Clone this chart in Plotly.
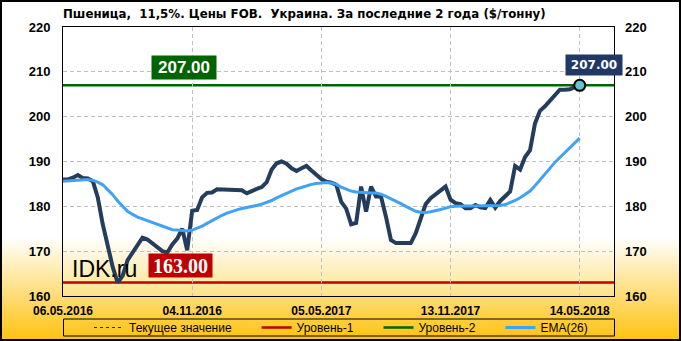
import plotly.graph_objects as go

# ---------------- data ----------------
tick_labels = ["06.05.2016", "04.11.2016", "05.05.2017", "13.11.2017", "14.05.2018"]
tick_index = [0, 26, 52, 78, 104]
y_ticks = [160, 170, 180, 190, 200, 210, 220]

price = [
    186.0, 186.0, 186.4, 187.0, 186.3, 186.2, 185.6, 182.0, 176.0, 171.0,
    166.5, 163.0, 164.5, 168.0, 169.8, 171.5, 173.0, 172.6, 171.8, 171.0,
    170.0, 169.7, 171.5, 172.8, 175.0, 170.2, 179.0, 179.2, 182.0, 183.0,
    183.1, 183.8, 183.8, 183.8, 183.8, 183.8, 183.6, 182.9, 183.5, 183.9,
    184.3, 185.4, 188.2, 189.6, 190.0, 189.5, 188.5, 187.9, 188.5, 189.0,
    188.0, 187.0, 186.1, 185.5, 185.3, 184.8, 181.0, 179.5, 176.0, 176.3,
    184.4, 178.8, 184.4, 182.2, 182.2, 177.7, 172.5, 171.8, 171.8, 171.8,
    171.8, 174.0, 177.5, 180.5, 181.8, 182.6, 183.5, 184.4, 181.5, 180.7,
    180.5, 179.6, 179.6, 180.3, 179.8, 179.6, 181.4, 179.7, 181.2, 182.4,
    183.3, 189.0, 188.2, 191.0, 192.5, 198.5, 201.3, 202.3, 203.5, 204.8,
    206.0, 206.0, 206.1, 206.6, 207.0,
]

ema26 = [
    185.6, 185.7, 185.8, 185.9, 185.9, 186.0, 185.8, 185.4, 184.8, 183.8,
    182.6, 181.2, 180.0, 178.9, 178.2, 177.6, 177.2, 176.8, 176.4, 176.0,
    175.6, 175.1, 174.8, 174.7, 174.6, 174.5, 174.7, 175.1, 175.6, 176.2,
    176.8, 177.5, 178.0, 178.5, 178.9, 179.2, 179.5, 179.7, 180.0, 180.2,
    180.5, 180.9, 181.3, 181.9, 182.4, 183.0, 183.5, 183.9, 184.2, 184.6,
    184.9, 185.1, 185.2, 185.3, 185.2, 184.9, 184.3, 183.8, 183.4, 183.2,
    183.1, 183.1, 183.0, 183.0, 182.7, 182.2, 181.7, 181.1, 180.6, 180.0,
    179.4, 178.9, 178.7, 178.6, 178.8, 179.0, 179.3, 179.6, 179.9, 180.0,
    180.1, 180.1, 180.1, 180.1, 180.1, 180.1, 180.1, 180.1, 180.2, 180.4,
    180.8, 181.3, 181.9, 182.6, 183.4, 184.6, 185.9, 187.3, 188.6, 189.8,
    190.9, 192.0, 193.1, 194.2, 195.2,
]

level1 = 163.0
level2 = 207.0
x_idx = list(range(len(price)))
current = price[-1]

# ---------------- geometry helpers (style only) ----------------
W, H = 681, 341
L, R, T, B = 63, 67, 27, 45
PW, PH = W - L - R, H - T - B


def px(x):
    return (x - L) / PW


def py(y):
    return (H - B - y) / PH


def mix(c0, c1, t):
    return "rgb(%d,%d,%d)" % tuple(round(a + (b - a) * t) for a, b in zip(c0, c1))


shapes = []
# outer gradient (whole image)
g0, g1 = 236, 341
for yy in range(g0, g1, 2):
    t = (yy - g0) / (g1 - g0)
    shapes.append(dict(type="rect", xref="paper", yref="paper", layer="below",
                       x0=px(0), x1=px(W), y0=py(H), y1=py(yy),
                       fillcolor=mix((255, 255, 255), (255, 193, 10), t), line_width=0))
# inner gradient (plot area)
h0, h1 = 236, 296
for yy in range(h0, h1, 2):
    t = (yy - h0) / (h1 - h0)
    shapes.append(dict(type="rect", xref="paper", yref="paper", layer="below",
                       x0=0, x1=1, y0=0, y1=py(yy),
                       fillcolor=mix((255, 255, 255), (255, 226, 135), t), line_width=0))

# outer border
shapes.append(dict(type="rect", xref="paper", yref="paper", layer="above",
                   x0=px(1), x1=px(W - 1), y0=py(H - 1), y1=py(1),
                   line=dict(color="black", width=2), fillcolor="rgba(0,0,0,0)"))
# legend frame
shapes.append(dict(type="rect", xref="paper", yref="paper", layer="above",
                   x0=px(63.5), x1=px(614.5), y0=py(336), y1=py(319),
                   line=dict(color="black", width=1), fillcolor="rgba(0,0,0,0)"))

# level lines (with legend entries)
shapes.append(dict(type="line", xref="paper", yref="y", x0=0, x1=1, y0=current, y1=current,
                   layer="between", line=dict(color="#1F2F45", width=1, dash="3px,3px"),
                   showlegend=True, name="Текущее значение" + "\u00a0" * 6, legendrank=1))
shapes.append(dict(type="line", xref="paper", yref="y", x0=0, x1=1, y0=level1, y1=level1,
                   layer="between", line=dict(color="#C00000", width=2.5),
                   showlegend=True, name="Уровень-1" + "\u00a0" * 6, legendrank=2))
shapes.append(dict(type="line", xref="paper", yref="y", x0=0, x1=1, y0=level2, y1=level2,
                   layer="between", line=dict(color="#006400", width=2.5),
                   showlegend=True, name="Уровень-2" + "\u00a0" * 6, legendrank=3))

fig = go.Figure()
fig.add_trace(go.Scatter(x=x_idx, y=price, mode="lines", showlegend=False,
                         line=dict(color="#243D5C", width=4), hoverinfo="skip"))
fig.add_trace(go.Scatter(x=x_idx, y=ema26, mode="lines", name="EMA(26)", legendrank=4,
                         line=dict(color="#3FA2F6", width=3), hoverinfo="skip"))
fig.add_trace(go.Scatter(x=[x_idx[-1]], y=[current], mode="markers", showlegend=False,
                         yaxis="y2", hoverinfo="skip",
                         marker=dict(size=11, color="#62C3D3", line=dict(color="black", width=2))))

annotations = [
    dict(xref="x", yref="y", x=x_idx[-1], y=current, xshift=14, yshift=20,
         xanchor="center", yanchor="middle",
         text="<b>%.2f</b>" % current, showarrow=False, bgcolor="#1F3864",
         font=dict(family="DejaVu Sans", size=12, color="white"),
         width=56, height=20, borderpad=0),
    dict(xref="paper", yref="paper", x=px(184), y=py(67.5), xanchor="center", yanchor="middle",
         text="<b>%.2f</b>" % level2, showarrow=False, bgcolor="#006400",
         font=dict(family="Liberation Sans", size=17, color="white"),
         width=64, height=23, borderpad=0),
    dict(xref="paper", yref="paper", x=px(180), y=py(265), xanchor="center", yanchor="middle",
         text="<b>%.2f</b>" % level1, showarrow=False, bgcolor="#C00000",
         font=dict(family="Liberation Serif", size=20, color="white"),
         width=63, height=23, borderpad=0),
    dict(xref="paper", yref="paper", x=px(70), y=py(268.5), xanchor="left", yanchor="middle",
         text="IDK.ru", showarrow=False,
         font=dict(family="Liberation Sans", size=23, color="black")),
]

fig.update_layout(
    width=W, height=H,
    margin=dict(l=L, r=R, t=T, b=B, autoexpand=False),
    paper_bgcolor="white",
    plot_bgcolor="rgba(0,0,0,0)",
    shapes=shapes,
    annotations=annotations,
    title=dict(text="<b>Пшеница,\u00a0 11,5%. Цены FOB.\u00a0 Украина. За последние 2 года ($/тонну)</b>",
               xref="paper", x=0, xanchor="left", yref="container", y=1 - 14 / H, yanchor="middle",
               font=dict(family="DejaVu Sans", size=11.8, color="black")),
    xaxis=dict(range=[0, 110.9], tickvals=tick_index, ticktext=tick_labels,
               showgrid=True, gridcolor="#BFBFBF", griddash="4px,3px", gridwidth=1,
               showline=True, linecolor="black", linewidth=1, mirror=True,
               ticks="", ticklabelstandoff=4, zeroline=False,
               tickfont=dict(family="Liberation Sans", size=12, color="black", weight="bold")),
    yaxis=dict(range=[160, 220], tickvals=y_ticks,
               showgrid=True, gridcolor="#BFBFBF", griddash="4px,3px", gridwidth=1,
               showline=True, linecolor="black", linewidth=1, mirror=True,
               ticks="", ticklabelstandoff=9, zeroline=False,
               tickfont=dict(family="Liberation Sans", size=13, color="black", weight="bold")),
    yaxis2=dict(range=[160, 220], tickvals=y_ticks, overlaying="y", side="right",
                showgrid=False, ticks="", ticklabelstandoff=10, zeroline=False, showline=False,
                tickfont=dict(family="Liberation Sans", size=13, color="black", weight="bold")),
    legend=dict(orientation="h", x=px(341), xanchor="center", y=py(327.5), yanchor="middle",
                bgcolor="rgba(0,0,0,0)", borderwidth=0, traceorder="normal",
                font=dict(family="Liberation Sans", size=12, color="black"),
                itemclick=False, itemdoubleclick=False),
)

fig.write_html("out.html")
